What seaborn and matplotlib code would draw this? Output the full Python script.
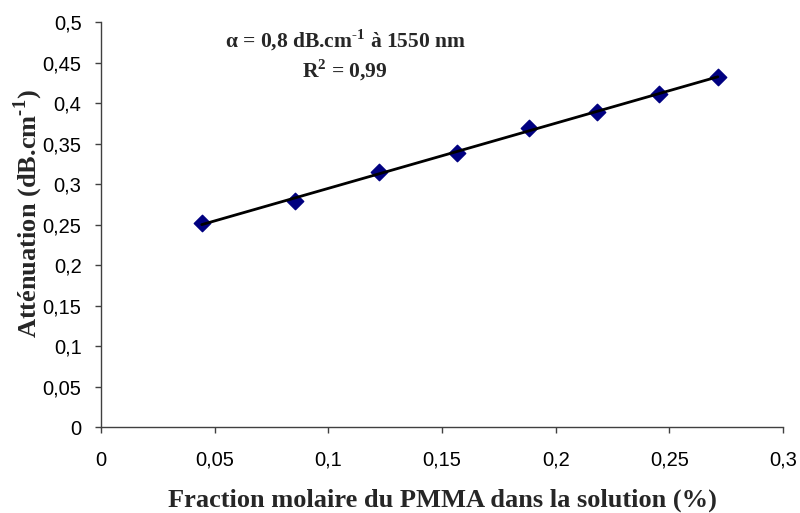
import numpy as np
import pandas as pd
import seaborn as sns
import matplotlib.pyplot as plt

# values
fraction = [0.0443, 0.0852, 0.1223, 0.1567, 0.1884, 0.2183, 0.2456, 0.2713]
attenuation = [0.2515, 0.2794, 0.3148, 0.3379, 0.3688, 0.3893, 0.4111, 0.4325]
xticks = [0, 0.05, 0.1, 0.15, 0.2, 0.25, 0.3]
yticks = [0, 0.05, 0.1, 0.15, 0.2, 0.25, 0.3, 0.35, 0.4, 0.45, 0.5]

df = pd.DataFrame({'fraction': fraction, 'attenuation': attenuation})

sns.set_style('white')
plt.rcParams['font.family'] = ['Liberation Sans', 'DejaVu Sans']
plt.rcParams['mathtext.fontset'] = 'custom'
plt.rcParams['mathtext.rm'] = 'Liberation Serif:bold'
plt.rcParams['mathtext.bf'] = 'Liberation Serif:bold'

fig = plt.figure(figsize=(8, 5.13), dpi=100)
ax = fig.add_axes([0.12625, 0.1676, 0.8525, 0.7894])

sns.regplot(x='fraction', y='attenuation', data=df, ax=ax, ci=None, marker='D',
            scatter_kws={'s': 70, 'color': '#000080', 'edgecolor': '#000080', 'alpha': 1},
            line_kws={'color': 'black', 'linewidth': 2})

ax.set_xlim(0, 0.3)
ax.set_ylim(0, 0.5)
ax.set_xticks(xticks)
ax.set_yticks(yticks)
fmt = lambda v: ('%g' % v).replace('.', ',')
ax.set_xticklabels([fmt(v) for v in xticks])
ax.set_yticklabels([fmt(v) for v in yticks])
ax.tick_params(axis='both', which='both', direction='out', length=4, width=1,
               color='#404040', labelsize=14.5, labelcolor='black',
               left=True, bottom=True)
ax.tick_params(axis='x', pad=13)
ax.tick_params(axis='y', pad=10)

for s in ['top', 'right']:
    ax.spines[s].set_visible(False)
for s in ['left', 'bottom']:
    ax.spines[s].set_color('#404040')
    ax.spines[s].set_linewidth(1)

ax.set_xlabel('Fraction molaire du PMMA dans la solution (%)', family='Liberation Serif',
              fontweight='bold', fontsize=19)
ax.set_ylabel(r'Atténuation (dB.cm$^{\text{-1}}$)', family='Liberation Serif',
              fontweight='bold', fontsize=19)
ax.xaxis.set_label_coords(0.5, -0.153)
ax.yaxis.set_label_coords(-0.082, 0.526)

ax.text(0.358, 0.955, r'α = 0,8 dB.cm$^{\text{-1}}$ à 1550 nm', transform=ax.transAxes,
        ha='center', va='center', family='Liberation Serif', fontweight='bold', fontsize=15.5)
ax.text(0.358, 0.88, r'R$^{\text{2}}$ = 0,99', transform=ax.transAxes,
        ha='center', va='center', family='Liberation Serif', fontweight='bold', fontsize=15.5)

fig.savefig('out.png', dpi=100)
